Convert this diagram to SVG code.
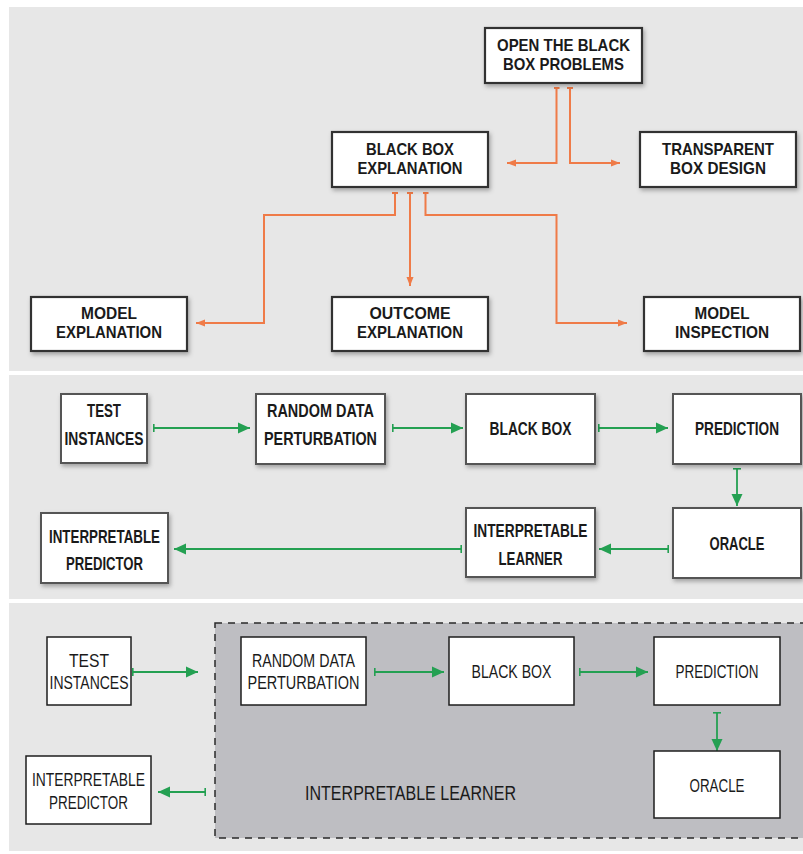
<svg xmlns="http://www.w3.org/2000/svg" width="803" height="854" viewBox="0 0 803 854">
  <style>
    .panel { fill: #e7e7e7; }
    .box1 { fill: #ffffff; stroke: #333333; stroke-width: 2.2; filter: url(#shadow); }
    .box2 { fill: #ffffff; stroke: #555555; stroke-width: 2; filter: url(#shadow); }
    .box3 { fill: #ffffff; stroke: #1e1e1e; stroke-width: 1.5; }
    text { font-family: "Liberation Sans", Arial, sans-serif; text-anchor: middle; fill: #1a1a1a; }
    .t1 { font-size: 17px; font-weight: bold; }
    .t2 { font-size: 19px; font-weight: bold; }
    .t3 { font-size: 18px; font-weight: normal; }
    .big { font-size: 20px; }
    .orange { fill: none; stroke: #ef7b48; stroke-width: 2; marker-end: url(#arrowO); marker-start: url(#tickO); }
    .green { fill: none; stroke: #24a052; stroke-width: 1.8; marker-end: url(#arrowG); marker-start: url(#tickG); }
  </style>
  <defs>
    <filter id="shadow" x="-10%" y="-10%" width="125%" height="135%">
      <feDropShadow dx="1.5" dy="2.5" stdDeviation="2" flood-color="#000000" flood-opacity="0.3"/>
    </filter>
    <marker id="arrowO" markerUnits="userSpaceOnUse" markerWidth="9" markerHeight="8" refX="9" refY="4" orient="auto" viewBox="0 0 9 8">
      <path d="M0,0.5 L9,4 L0,7.5 z" fill="#ef7b48"/>
    </marker>
    <marker id="tickO" markerUnits="userSpaceOnUse" markerWidth="2" markerHeight="6" refX="1" refY="3" orient="auto" viewBox="0 0 2 6">
      <rect x="0" y="0" width="2" height="6" fill="#ef7b48"/>
    </marker>
    <marker id="arrowG" markerUnits="userSpaceOnUse" markerWidth="12" markerHeight="12" refX="12" refY="6" orient="auto" viewBox="0 0 12 12">
      <path d="M0,0.5 L12,6 L0,11.5 z" fill="#24a052"/>
    </marker>
    <marker id="tickG" markerUnits="userSpaceOnUse" markerWidth="2" markerHeight="8" refX="1" refY="4" orient="auto" viewBox="0 0 2 8">
      <rect x="0" y="0" width="1.6" height="8" fill="#24a052"/>
    </marker>
  </defs>

  <!-- background bands -->
  <rect x="0" y="0" width="803" height="854" fill="#ffffff"/>
  <rect class="panel" x="9" y="7" width="794" height="364"/>
  <rect class="panel" x="9" y="375" width="794" height="224"/>
  <rect class="panel" x="9" y="603" width="794" height="248"/>

  <!-- dashed learner region -->
  <g id="learner-region">
    <rect x="215" y="623" width="600" height="215" fill="#bebec2" stroke="#2a2a2a" stroke-width="1.5" stroke-dasharray="7,6"/>
    <text class="t3 big" x="410.5" y="800" textLength="211" lengthAdjust="spacingAndGlyphs">INTERPRETABLE LEARNER</text>
  </g>

  <!-- connectors -->
  <g id="connectors">
    <!-- taxonomy (orange) -->
    <path class="orange" d="M556.5,88 V163 H507"/>
    <path class="orange" d="M570,88 V163 H620"/>
    <path class="orange" d="M395,193 V215 H264 V323 H196"/>
    <path class="orange" d="M410,193 V286"/>
    <path class="orange" d="M425.5,193 V215 H556.5 V323 H627"/>
    <!-- pipeline (green) -->
    <path class="green" d="M154,428 H250"/>
    <path class="green" d="M393,428 H463"/>
    <path class="green" d="M599,428 H668"/>
    <path class="green" d="M737,469 V506"/>
    <path class="green" d="M668,549 H599"/>
    <path class="green" d="M461,549 H174"/>
    <!-- learner pipeline (green) -->
    <path class="green" d="M133,672 H198"/>
    <path class="green" d="M375,672 H444"/>
    <path class="green" d="M580,672 H648"/>
    <path class="green" d="M717,713 V751"/>
    <path class="green" d="M205,792 H158"/>
  </g>

  <!-- taxonomy nodes -->
  <g id="open-black-box">
    <rect class="box1" x="485" y="28" width="157" height="55"/>
    <text class="t1" x="563.5" y="51" textLength="133" lengthAdjust="spacingAndGlyphs">OPEN THE BLACK</text>
    <text class="t1" x="563.5" y="70" textLength="121" lengthAdjust="spacingAndGlyphs">BOX PROBLEMS</text>
  </g>
  <g id="black-box-explanation">
    <rect class="box1" x="332" y="132" width="156" height="55"/>
    <text class="t1" x="410" y="155" textLength="88" lengthAdjust="spacingAndGlyphs">BLACK BOX</text>
    <text class="t1" x="410" y="174" textLength="105" lengthAdjust="spacingAndGlyphs">EXPLANATION</text>
  </g>
  <g id="transparent-box-design">
    <rect class="box1" x="640" y="132" width="156" height="55"/>
    <text class="t1" x="718" y="155" textLength="112" lengthAdjust="spacingAndGlyphs">TRANSPARENT</text>
    <text class="t1" x="718" y="174" textLength="96" lengthAdjust="spacingAndGlyphs">BOX DESIGN</text>
  </g>
  <g id="model-explanation">
    <rect class="box1" x="31" y="297" width="156" height="54"/>
    <text class="t1" x="109" y="319" textLength="56" lengthAdjust="spacingAndGlyphs">MODEL</text>
    <text class="t1" x="109" y="338" textLength="106" lengthAdjust="spacingAndGlyphs">EXPLANATION</text>
  </g>
  <g id="outcome-explanation">
    <rect class="box1" x="332" y="297" width="156" height="54"/>
    <text class="t1" x="410" y="319" textLength="81" lengthAdjust="spacingAndGlyphs">OUTCOME</text>
    <text class="t1" x="410" y="338" textLength="106" lengthAdjust="spacingAndGlyphs">EXPLANATION</text>
  </g>
  <g id="model-inspection">
    <rect class="box1" x="644" y="297" width="156" height="54"/>
    <text class="t1" x="722" y="319" textLength="55" lengthAdjust="spacingAndGlyphs">MODEL</text>
    <text class="t1" x="722" y="338" textLength="94" lengthAdjust="spacingAndGlyphs">INSPECTION</text>
  </g>

  <!-- pipeline nodes -->
  <g id="p-test-instances">
    <rect class="box2" x="61" y="394" width="86" height="69"/>
    <text class="t2" x="104" y="417" textLength="34" lengthAdjust="spacingAndGlyphs">TEST</text>
    <text class="t2" x="104" y="445" textLength="79" lengthAdjust="spacingAndGlyphs">INSTANCES</text>
  </g>
  <g id="p-random-perturbation">
    <rect class="box2" x="256" y="394" width="129" height="70"/>
    <text class="t2" x="320.5" y="417" textLength="107" lengthAdjust="spacingAndGlyphs">RANDOM DATA</text>
    <text class="t2" x="320.5" y="445" textLength="113" lengthAdjust="spacingAndGlyphs">PERTURBATION</text>
  </g>
  <g id="p-black-box">
    <rect class="box2" x="466" y="394" width="129" height="70"/>
    <text class="t2" x="530.5" y="435" textLength="82" lengthAdjust="spacingAndGlyphs">BLACK BOX</text>
  </g>
  <g id="p-prediction">
    <rect class="box2" x="673" y="394" width="128" height="70"/>
    <text class="t2" x="737" y="435" textLength="84" lengthAdjust="spacingAndGlyphs">PREDICTION</text>
  </g>
  <g id="p-oracle">
    <rect class="box2" x="673" y="508" width="128" height="70"/>
    <text class="t2" x="737" y="550" textLength="55" lengthAdjust="spacingAndGlyphs">ORACLE</text>
  </g>
  <g id="p-interpretable-learner">
    <rect class="box2" x="466" y="508" width="129" height="69"/>
    <text class="t2" x="530.5" y="537" textLength="114" lengthAdjust="spacingAndGlyphs">INTERPRETABLE</text>
    <text class="t2" x="530.5" y="565" textLength="64" lengthAdjust="spacingAndGlyphs">LEARNER</text>
  </g>
  <g id="p-interpretable-predictor">
    <rect class="box2" x="41" y="513" width="127" height="70"/>
    <text class="t2" x="104.5" y="543" textLength="111" lengthAdjust="spacingAndGlyphs">INTERPRETABLE</text>
    <text class="t2" x="104.5" y="570" textLength="77" lengthAdjust="spacingAndGlyphs">PREDICTOR</text>
  </g>

  <!-- learner pipeline nodes -->
  <g id="l-test-instances">
    <rect class="box3" x="47" y="637" width="84" height="68"/>
    <text class="t3" x="89" y="667" textLength="40" lengthAdjust="spacingAndGlyphs">TEST</text>
    <text class="t3" x="89" y="689" textLength="79" lengthAdjust="spacingAndGlyphs">INSTANCES</text>
  </g>
  <g id="l-random-perturbation">
    <rect class="box3" x="241" y="637" width="125" height="68"/>
    <text class="t3" x="303.5" y="667" textLength="103" lengthAdjust="spacingAndGlyphs">RANDOM DATA</text>
    <text class="t3" x="303.5" y="689" textLength="112" lengthAdjust="spacingAndGlyphs">PERTURBATION</text>
  </g>
  <g id="l-black-box">
    <rect class="box3" x="449" y="637" width="125" height="68"/>
    <text class="t3" x="511.5" y="678" textLength="80" lengthAdjust="spacingAndGlyphs">BLACK BOX</text>
  </g>
  <g id="l-prediction">
    <rect class="box3" x="654" y="637" width="126" height="68"/>
    <text class="t3" x="717" y="678" textLength="83" lengthAdjust="spacingAndGlyphs">PREDICTION</text>
  </g>
  <g id="l-oracle">
    <rect class="box3" x="654" y="751" width="126" height="67"/>
    <text class="t3" x="717" y="792" textLength="55" lengthAdjust="spacingAndGlyphs">ORACLE</text>
  </g>
  <g id="l-interpretable-predictor">
    <rect class="box3" x="26" y="756" width="125" height="68"/>
    <text class="t3" x="88.5" y="786" textLength="113" lengthAdjust="spacingAndGlyphs">INTERPRETABLE</text>
    <text class="t3" x="88.5" y="809" textLength="79" lengthAdjust="spacingAndGlyphs">PREDICTOR</text>
  </g>
</svg>
